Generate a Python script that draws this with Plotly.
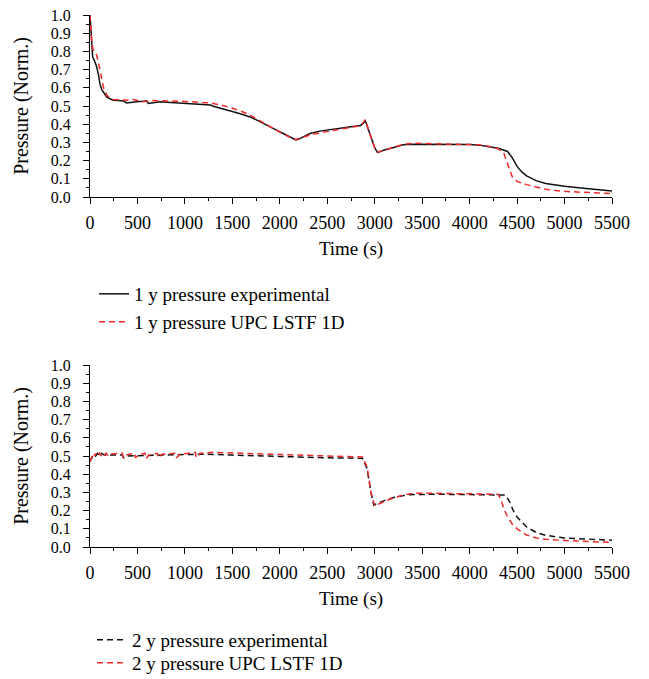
import plotly.graph_objects as go

# ---- 1 y pressure (top panel) ----
t_1y_exp = [0, 10, 28, 50, 70, 90, 105, 125, 140, 175, 210, 245, 300, 350, 386, 420, 490, 560, 597, 614, 650, 737, 850,
            983, 1100, 1193, 1270, 1299, 1400, 1509, 1600, 1685, 1770, 1860, 1950, 2036, 2100, 2169, 2200, 2317, 2420,
            2527, 2650, 2750, 2850, 2880, 2900, 2950, 3000, 3030, 3100, 3200, 3300, 3400, 3600, 3800, 4000, 4100,
            4200, 4300, 4400, 4450, 4500, 4550, 4600, 4700, 4800, 4900, 5000, 5200, 5500]
p_1y_exp = [1.0, 0.90, 0.77, 0.745, 0.716, 0.67, 0.62, 0.59, 0.578, 0.55, 0.54, 0.532, 0.53, 0.528, 0.517, 0.52, 0.523,
            0.526, 0.528, 0.514, 0.517, 0.523, 0.519, 0.514, 0.511, 0.507, 0.505, 0.499, 0.486, 0.468, 0.455, 0.44,
            0.42, 0.394, 0.372, 0.349, 0.333, 0.314, 0.318, 0.349, 0.362, 0.371, 0.38, 0.386, 0.393, 0.405, 0.42,
            0.345, 0.27, 0.244, 0.258, 0.272, 0.287, 0.29, 0.29, 0.289, 0.288, 0.285, 0.278, 0.268, 0.25, 0.215,
            0.168, 0.138, 0.116, 0.09, 0.074, 0.065, 0.059, 0.048, 0.033]

t_1y_sim = [0, 10, 20, 35, 70, 105, 140, 175, 210, 245, 316, 386, 456, 562, 650, 807, 1000, 1264, 1400, 1509, 1600,
            1685, 1770, 1860, 1950, 2036, 2100, 2169, 2250, 2350, 2527, 2650, 2750, 2850, 2880, 2900, 2950, 3000,
            3030, 3100, 3200, 3300, 3400, 3600, 3800, 4000, 4100, 4200, 4300, 4360, 4400, 4450, 4500, 4550, 4600,
            4700, 4800, 5000, 5200, 5500]
p_1y_sim = [1.0, 0.917, 0.84, 0.807, 0.78, 0.70, 0.605, 0.56, 0.545, 0.536, 0.532, 0.532, 0.536, 0.523, 0.53, 0.528,
            0.525, 0.517, 0.503, 0.486, 0.47, 0.45, 0.425, 0.394, 0.37, 0.346, 0.33, 0.316, 0.33, 0.345, 0.363, 0.374,
            0.383, 0.392, 0.41, 0.425, 0.345, 0.27, 0.246, 0.258, 0.273, 0.29, 0.295, 0.293, 0.291, 0.29, 0.287,
            0.279, 0.265, 0.24, 0.18, 0.11, 0.086, 0.076, 0.068, 0.055, 0.042, 0.031, 0.025, 0.018]

# ---- 2 y pressure (bottom panel) ----
t_2y_exp = [0, 40, 60, 80, 100, 120, 150, 200, 340, 355, 380, 500, 700, 1000, 1200, 1500, 2000, 2500, 2870, 2920,
            2960, 2990, 3100, 3200, 3350, 3600, 4000, 4380, 4420, 4460, 4500, 4600, 4700, 4800, 5000, 5500]
p_2y_exp = [0.47, 0.51, 0.50, 0.515, 0.50, 0.515, 0.505, 0.505, 0.505, 0.49, 0.50, 0.502, 0.505, 0.51, 0.51, 0.505,
            0.497, 0.49, 0.488, 0.43, 0.30, 0.23, 0.255, 0.272, 0.287, 0.29, 0.288, 0.285, 0.25, 0.20, 0.165, 0.11,
            0.08, 0.064, 0.05, 0.037]

t_2y_sim = [0, 20, 35, 50, 65, 80, 100, 115, 130, 150, 170, 190, 210, 300, 340, 350, 380, 470, 480, 510, 580, 590,
            620, 710, 720, 760, 900, 910, 950, 1110, 1120, 1160, 1300, 1600, 2000, 2500, 2870, 2920, 2960, 3000,
            3100, 3200, 3300, 3400, 3600, 4000, 4300, 4330, 4360, 4400, 4450, 4500, 4600, 4700, 4800, 5000, 5500]
p_2y_sim = [0.47, 0.50, 0.515, 0.50, 0.515, 0.50, 0.515, 0.50, 0.515, 0.505, 0.515, 0.50, 0.51, 0.515, 0.515, 0.49,
            0.505, 0.515, 0.49, 0.505, 0.515, 0.485, 0.505, 0.515, 0.49, 0.51, 0.515, 0.49, 0.51, 0.52, 0.49, 0.515,
            0.52, 0.515, 0.51, 0.50, 0.495, 0.44, 0.30, 0.225, 0.25, 0.27, 0.285, 0.295, 0.295, 0.292, 0.29, 0.26,
            0.21, 0.165, 0.125, 0.10, 0.066, 0.05, 0.042, 0.036, 0.025]

x_ticks = list(range(0, 5501, 500))
y_ticks = [round(0.1 * i, 1) for i in range(11)]
y_tick_text = [f"{v:.1f}" for v in y_ticks]

FONT = "Liberation Serif"
BLACK = "#111111"
RED = "#ee2a2a"
DASH = "6px,4px"

W, H = 649, 679

fig = go.Figure()

series = [
    (t_1y_exp, p_1y_exp, "1 y pressure experimental", BLACK, "solid", "x", "y", "legend"),
    (t_1y_sim, p_1y_sim, "1 y pressure UPC LSTF 1D", RED, DASH, "x", "y", "legend2"),
    (t_2y_exp, p_2y_exp, "2 y pressure experimental", BLACK, DASH, "x2", "y2", "legend3"),
    (t_2y_sim, p_2y_sim, "2 y pressure UPC LSTF 1D", RED, DASH, "x2", "y2", "legend4"),
]
for tx, py, name, color, dash, xa, ya, lg in series:
    fig.add_trace(go.Scatter(x=tx, y=py, mode="lines", name=name,
                             line=dict(color=color, width=1.5, dash=dash),
                             xaxis=xa, yaxis=ya, legend=lg))

x_dom = [90 / W, 612 / W]


def ydom(top_px, bottom_px):
    return [(H - bottom_px) / H, (H - top_px) / H]


def xaxis_cfg(anchor):
    return dict(
        domain=x_dom, anchor=anchor, range=[0, 5500], tickvals=x_ticks, automargin=False,
        showline=True, linecolor="black", linewidth=1, showgrid=False, zeroline=False,
        ticks="outside", ticklen=6, tickcolor="black", tickwidth=1, ticklabelstandoff=3,
        minor=dict(dtick=250, tick0=0, ticks="outside", ticklen=3, tickcolor="black", showgrid=False),
        tickfont=dict(family=FONT, size=18, color="black"),
        title=dict(text="Time (s)", font=dict(family=FONT, size=19, color="black"), standoff=10),
    )


def yaxis_cfg(anchor, dom):
    return dict(
        domain=dom, anchor=anchor, range=[0, 1.0], tickvals=y_ticks, ticktext=y_tick_text, automargin=False,
        showline=True, linecolor="black", linewidth=1, showgrid=False, zeroline=False,
        ticks="outside", ticklen=6, tickcolor="black", tickwidth=1, ticklabelstandoff=9,
        minor=dict(dtick=0.05, tick0=0, ticks="outside", ticklen=3, tickcolor="black", showgrid=False),
        tickfont=dict(family=FONT, size=16, color="black"),
        title=dict(text="Pressure (Norm.)", font=dict(family=FONT, size=20, color="black"), standoff=16),
    )


def legend_at(x_px, y_px):
    return dict(
        x=x_px / W, y=(H - y_px) / H, xanchor="left", yanchor="middle",
        bgcolor="rgba(0,0,0,0)", borderwidth=0, itemwidth=30,
        font=dict(family=FONT, size=19, color="black"),
    )


fig.update_layout(
    width=W, height=H, margin=dict(l=0, r=0, t=0, b=0, autoexpand=False),
    paper_bgcolor="white", plot_bgcolor="white", showlegend=True,
    xaxis=xaxis_cfg("y"), yaxis=yaxis_cfg("x", ydom(15, 197)),
    xaxis2=xaxis_cfg("y2"), yaxis2=yaxis_cfg("x2", ydom(365, 547)),
    legend=legend_at(94, 294),
    legend2=legend_at(94, 322),
    legend3=legend_at(92, 640),
    legend4=legend_at(92, 663),
)

fig.write_html("out.html")
